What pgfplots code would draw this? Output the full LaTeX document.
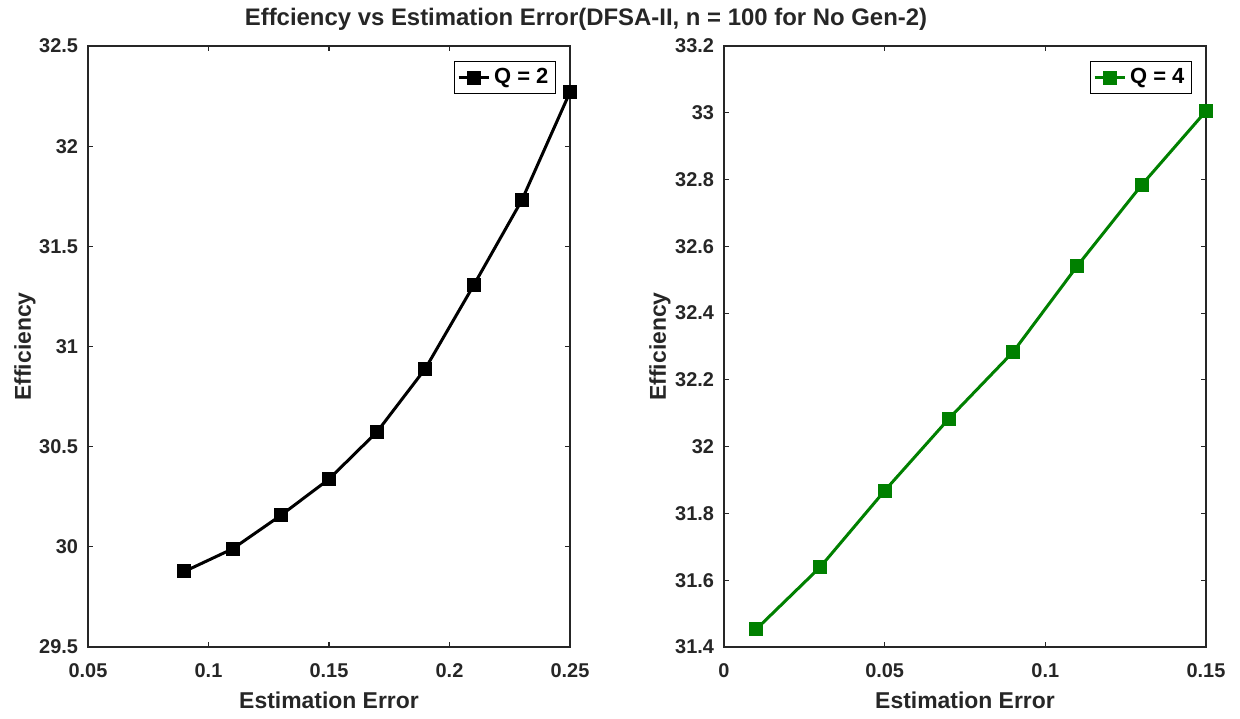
\documentclass[border=0pt]{standalone}
\usepackage{pgfplots}
\pgfplotsset{compat=1.18}
\usepackage{fontspec}
\setmainfont{Liberation Sans}
\definecolor{mgreen}{rgb}{0,0.5,0}
\definecolor{axgray}{gray}{0.15}

\pgfplotstableread{
x y
0.09 29.877
0.11 29.99
0.13 30.157
0.15 30.338
0.17 30.575
0.19 30.89
0.21 31.305
0.23 31.73
0.25 32.27
}\tableA

\pgfplotstableread{
x y
0.01 31.453
0.03 31.64
0.05 31.868
0.07 32.084
0.09 32.284
0.11 32.542
0.13 32.784
0.15 33.005
}\tableB

\pgfplotsset{
  myaxis/.style={
    scale only axis, width=241bp, height=300.5bp,
    axis line style={draw=axgray, line width=0.6bp},
    every tick/.style={draw=axgray, line width=0.6bp},
    major tick length=2.5bp,
    tick align=inside,
    ticklabel style={font=\fontsize{10}{12}\selectfont\bfseries, text=axgray},
    xticklabel style={yshift=-5bp},
    yticklabel style={xshift=-1.5bp},
    /pgf/number format/assume math mode=true,
    label style={font=\fontsize{11.5}{13}\selectfont\bfseries, text=axgray},
    ylabel={Efficiency},
    xlabel={Estimation Error},
    xlabel style={at={(axis description cs:0.5,-0.088)}, anchor=center},
    legend style={at={(axis description cs:1,1)}, anchor=north east,
      xshift=-7bp, yshift=-7.5bp, draw=black, line width=0.6bp,
      font=\fontsize{11}{12}\selectfont\bfseries, inner sep=1.5bp,
      legend cell align=left},
    legend image code/.code={\draw[mark repeat=2,mark phase=2] plot coordinates {(0bp,0bp) (7.5bp,0bp) (15bp,0bp)};},
  }
}

\begin{document}
\begin{tikzpicture}
\useasboundingbox (-44bp,-36bp) rectangle (576bp,323.5bp);

\begin{axis}[myaxis,
  xmin=0.05, xmax=0.25, ymin=29.5, ymax=32.5,
  xtick={0.05,0.1,0.15,0.2,0.25},
  ytick={29.5,30,30.5,31,31.5,32,32.5},
  yticklabel style={/pgf/number format/fixed},
  xticklabel style={/pgf/number format/fixed, /pgf/number format/precision=2},
  ylabel style={at={(axis description cs:-0.1307,0.5)}, anchor=center, rotate=0},
]
\addplot[black, line width=1.5bp, mark=square*, mark size=3.25bp, mark options={solid, line width=0.5bp}] table[x=x,y=y] {\tableA};
\addlegendentry{Q = 2}
\end{axis}

\begin{axis}[myaxis, at={(318bp,0bp)},
  xmin=0, xmax=0.15, ymin=31.4, ymax=33.2,
  xtick={0,0.05,0.1,0.15},
  ytick={31.4,31.6,31.8,32,32.2,32.4,32.6,32.8,33,33.2},
  yticklabel style={/pgf/number format/fixed, /pgf/number format/precision=1},
  xticklabel style={/pgf/number format/fixed, /pgf/number format/precision=2},
  ylabel style={at={(axis description cs:-0.133,0.5)}, anchor=center, rotate=0},
]
\addplot[mgreen, line width=1.5bp, mark=square*, mark size=3.25bp, mark options={solid, line width=0.5bp}] table[x=x,y=y] {\tableB};
\addlegendentry{Q = 4}
\end{axis}

\node[font=\fontsize{12}{14}\selectfont\bfseries, text=axgray] at (249bp,314bp) {Effciency vs Estimation Error(DFSA-II, n = 100 for No Gen-2)};
\end{tikzpicture}
\end{document}
